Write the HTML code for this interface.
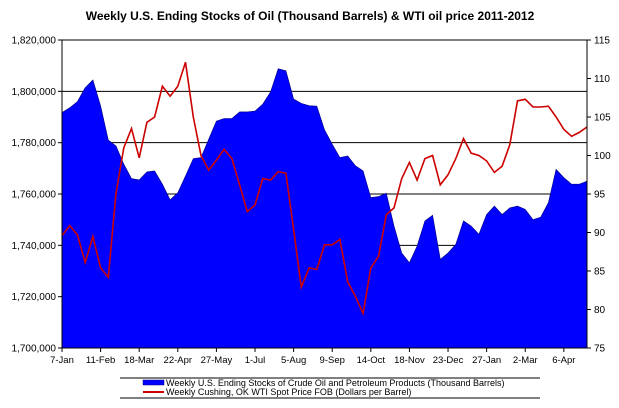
<!DOCTYPE html>
<html><head><meta charset="utf-8"><style>
body{margin:0;background:#fff;font-family:"Liberation Sans",sans-serif}
</style></head><body>
<svg id="c" width="619" height="403" xmlns="http://www.w3.org/2000/svg" font-family="Liberation Sans, sans-serif">
<text x="310" y="20" text-anchor="middle" font-size="12" font-weight="bold">Weekly U.S. Ending Stocks of Oil  (Thousand Barrels) &amp; WTI oil price 2011-2012</text>
<g id="grid"></g><g id="area"></g><g id="line"></g><g id="axes"></g>
<g>
<line x1="120" y1="378" x2="540" y2="378" stroke="#000" stroke-width="1"/>
<line x1="120" y1="398" x2="540" y2="398" stroke="#000" stroke-width="1"/>
<rect x="143" y="380" width="21" height="5" fill="#0000ff" stroke="#000080" stroke-width="0.5"/>
<text x="166" y="386" font-size="9">Weekly U.S. Ending Stocks of Crude Oil and Petroleum Products  (Thousand Barrels)</text>
<line x1="143" y1="392" x2="164" y2="392" stroke="#cc0000" stroke-width="2"/>
<text x="166" y="395" font-size="9">Weekly Cushing, OK WTI Spot Price FOB  (Dollars per Barrel)</text>
</g>
</svg>
<script>
const stocks=[1791.7,1793.6,1796,1801.4,1804.4,1794.3,1781,1778.7,1771.6,1766,1765.5,1768.6,1769,1763.8,1757.7,1760.5,1767,1773.8,1774.2,1781.3,1788.4,1789.4,1789.4,1792,1792,1792.3,1795,1799.7,1808.8,1808,1797,1795.3,1794.4,1794.2,1785,1779.4,1774.2,1774.8,1771,1769,1758.6,1759,1760.3,1747.5,1737,1733.2,1739.7,1749.5,1751.7,1734.5,1737,1740.4,1749.5,1747.5,1744.3,1752,1755.3,1752,1754.6,1755.3,1754,1750,1751,1756.6,1769.6,1766.4,1763.8,1763.8,1765];
const prices=[89.6,90.9,89.7,86.1,89.5,85.4,84.2,95.1,101,103.5,99.7,104.3,105,109,107.7,109,112.1,105,100,98.1,99.4,100.8,99.6,96.2,92.7,93.6,97,96.8,97.9,97.7,90.4,82.9,85.4,85.2,88.4,88.4,89.1,83.6,81.7,79.5,85.4,86.9,92.3,93.2,97,99.1,96.8,99.6,100,96.2,97.5,99.6,102.2,100.3,100,99.3,97.8,98.6,101.4,107.1,107.3,106.3,106.3,106.4,105,103.4,102.5,103,103.7];
const xLabels=["7-Jan","11-Feb","18-Mar","22-Apr","27-May","1-Jul","5-Aug","9-Sep","14-Oct","18-Nov","23-Dec","27-Jan","2-Mar","6-Apr"];
const leftTicks=[1700000,1720000,1740000,1760000,1780000,1800000,1820000];
const rightTicks=[75,80,85,90,95,100,105,110,115];
const L=62,R=587,T=40,B=348,NS='http://www.w3.org/2000/svg';
const n=stocks.length;
const xS=i=>L+i*(R-L)/(n-1);
const yL=v=>B-(v-1700)/120*(B-T);
const yR=v=>B-(v-75)/40*(B-T);
function mk(tag,attrs,parent){const e=document.createElementNS(NS,tag);for(const k in attrs)e.setAttribute(k,attrs[k]);document.getElementById(parent).appendChild(e);return e;}
leftTicks.forEach(t=>{const y=yL(t/1000);
 if(t>1700000&&t<1820000){const g=mk('line',{x1:L,x2:R,y1:y,y2:y,stroke:'#000','stroke-width':1},'grid');
 
 }
 mk('line',{x1:L-4,x2:L,y1:y,y2:y,stroke:'#000'},'axes');
 const tx=mk('text',{x:L-6,y:y+3.5,'text-anchor':'end','font-size':10},'axes');tx.textContent=t.toLocaleString('en-US');
 
 });
rightTicks.forEach(t=>{const y=yR(t);
 mk('line',{x1:R,x2:R+4,y1:y,y2:y,stroke:'#000'},'axes');
 const tx=mk('text',{x:R+7,y:y+3.5,'font-size':10},'axes');tx.textContent=t;
 
 });
let d='M'+xS(0)+','+B;stocks.forEach((v,i)=>d+=' L'+xS(i).toFixed(1)+','+yL(v).toFixed(1));d+=' L'+xS(n-1)+','+B+' Z';
const a=mk('path',{d:d,fill:'#0000ff',stroke:'#000080','stroke-width':0.6},'area');


const pl=mk('polyline',{points:prices.map((v,i)=>xS(i).toFixed(1)+','+yR(v).toFixed(1)).join(' '),fill:'none',stroke:'#cc0000','stroke-width':1.6},'line');


mk('rect',{x:L,y:T,width:R-L,height:B-T,fill:'none',stroke:'#000','stroke-width':1},'axes');
xLabels.forEach((s,k)=>{const x=xS(k*5);
 mk('line',{x1:x,x2:x,y1:B,y2:B+4,stroke:'#000'},'axes');
 const tx=mk('text',{x:x,y:B+15,'text-anchor':'middle','font-size':9.5},'axes');tx.textContent=s;
 
 });
</script>
</body></html>
